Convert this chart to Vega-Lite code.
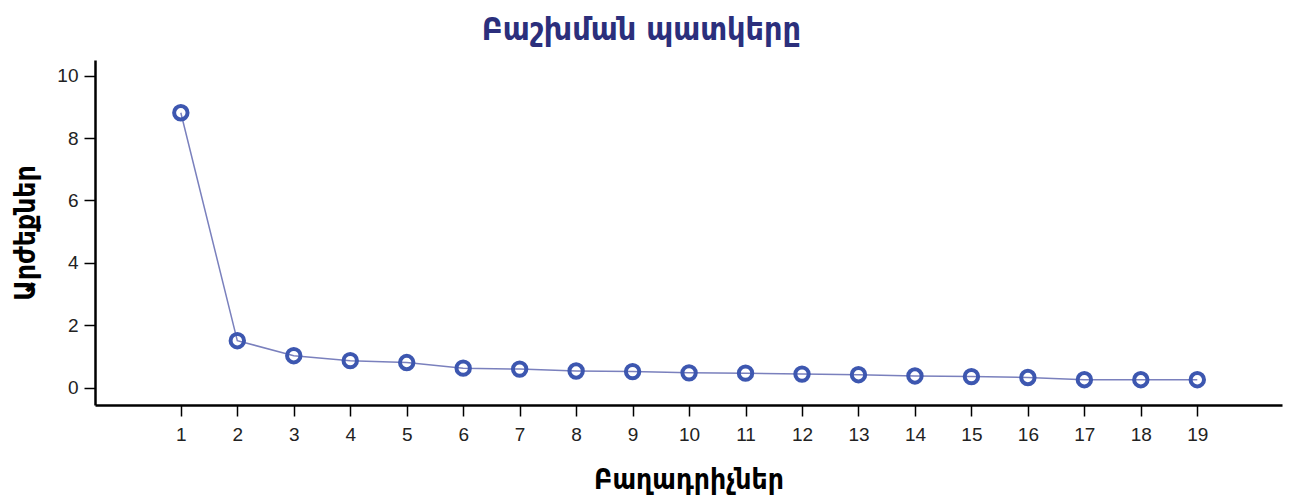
{
  "$schema": "https://vega.github.io/schema/vega-lite/v6.json",
  "width": 1187,
  "height": 345,
  "autosize": {"type": "none"},
  "padding": {"left": 95, "top": 60, "right": 8, "bottom": 94},
  "background": "white",
  "title": {
    "text": "Բաշխման պատկերը",
    "font": "DejaVu Sans Condensed",
    "fontSize": 32,
    "fontWeight": "bold",
    "color": "#2b2f7c",
    "anchor": "middle",
    "frame": "bounds",
    "offset": 13,
    "dx": -6
  },
  "config": {
    "view": {"stroke": null},
    "axis": {
      "labelFont": "Liberation Sans",
      "titleFont": "DejaVu Sans Condensed",
      "labelFontSize": 19,
      "labelColor": "#222222",
      "titleFontSize": 28,
      "titleFontWeight": "bold",
      "titleColor": "#000000",
      "domainColor": "#000000",
      "domainWidth": 2.5,
      "tickColor": "#000000",
      "tickWidth": 1.5,
      "tickSize": 11,
      "grid": false
    }
  },
  "data": {
    "values": [
      {"component": 1, "value": 8.81},
      {"component": 2, "value": 1.51},
      {"component": 3, "value": 1.03},
      {"component": 4, "value": 0.87},
      {"component": 5, "value": 0.81},
      {"component": 6, "value": 0.63},
      {"component": 7, "value": 0.6},
      {"component": 8, "value": 0.54},
      {"component": 9, "value": 0.52},
      {"component": 10, "value": 0.48},
      {"component": 11, "value": 0.47},
      {"component": 12, "value": 0.44},
      {"component": 13, "value": 0.42},
      {"component": 14, "value": 0.38},
      {"component": 15, "value": 0.36},
      {"component": 16, "value": 0.33},
      {"component": 17, "value": 0.26},
      {"component": 18, "value": 0.26},
      {"component": 19, "value": 0.26}
    ]
  },
  "encoding": {
    "x": {
      "field": "component",
      "type": "quantitative",
      "scale": {"domain": [-0.52, 20.5], "nice": false, "zero": false},
      "axis": {
        "title": "Բաղադրիչներ",
        "values": [1,2,3,4,5,6,7,8,9,10,11,12,13,14,15,16,17,18,19],
        "labelPadding": 9,
        "titlePadding": 22
      }
    },
    "y": {
      "field": "value",
      "type": "quantitative",
      "scale": {"domain": [-0.55, 10.5], "nice": false, "zero": false},
      "axis": {
        "title": "Արժեքներ",
        "values": [0,2,4,6,8,10],
        "labelPadding": 6,
        "titlePadding": 16
      }
    }
  },
  "layer": [
    {"mark": {"type": "line", "color": "#7a80bd", "strokeWidth": 1.5}},
    {"mark": {"type": "point", "shape": "circle", "filled": false, "color": "#3d57b0", "strokeWidth": 4, "size": 180, "opacity": 1}}
  ]
}
